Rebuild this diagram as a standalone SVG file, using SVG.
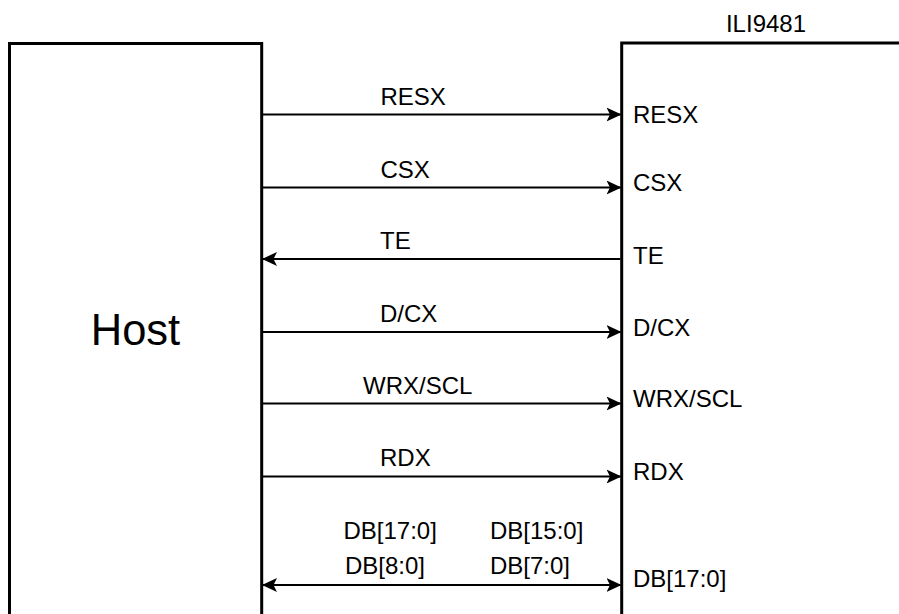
<svg xmlns="http://www.w3.org/2000/svg" width="899" height="614" viewBox="0 0 899 614">
  <style>
    .box { fill: none; stroke: #000; stroke-width: 3; }
    .wire { fill: none; stroke: #000; stroke-width: 1.8; }
    text { font-family: "Liberation Sans", Arial, sans-serif; font-size: 24px; fill: #000; }
    .host { font-size: 43.5px; }
  </style>
  <defs>
    <marker id="arr" viewBox="0 0 15 15" refX="14" refY="7.5" markerWidth="15" markerHeight="15" markerUnits="userSpaceOnUse" orient="auto-start-reverse">
      <path d="M0,0.5 L15,7.5 L0,14.5 L3.5,7.5 Z" fill="#000"/>
    </marker>
  </defs>
  <rect width="899" height="614" fill="#fff"/>

  <g id="host">
    <path class="box" d="M9.5,630 L9.5,43.5 L261.7,43.5 L261.7,630"/>
    <text class="host" x="135.5" y="345" text-anchor="middle">Host</text>
  </g>

  <g id="ili9481">
    <path class="box" d="M621.7,630 L621.7,43 L910,43"/>
    <text x="766" y="32" text-anchor="middle">ILI9481</text>
    <text x="633" y="123">RESX</text>
    <text x="633" y="191">CSX</text>
    <text x="633" y="264">TE</text>
    <text x="633" y="336">D/CX</text>
    <text x="633" y="407">WRX/SCL</text>
    <text x="633" y="480">RDX</text>
    <text x="633" y="587">DB[17:0]</text>
  </g>

  <g id="connectors">
    <line class="wire" x1="262" y1="114.5" x2="620.5" y2="114.5" marker-end="url(#arr)"/>
    <line class="wire" x1="262" y1="187.5" x2="620.5" y2="187.5" marker-end="url(#arr)"/>
    <line class="wire" x1="620.5" y1="259" x2="263" y2="259" marker-end="url(#arr)"/>
    <line class="wire" x1="262" y1="332" x2="620.5" y2="332" marker-end="url(#arr)"/>
    <line class="wire" x1="262" y1="403.5" x2="620.5" y2="403.5" marker-end="url(#arr)"/>
    <line class="wire" x1="262" y1="476.5" x2="620.5" y2="476.5" marker-end="url(#arr)"/>
    <line class="wire" x1="263" y1="585" x2="620.5" y2="585" marker-start="url(#arr)" marker-end="url(#arr)"/>
  </g>

  <g id="labels">
    <text x="380.5" y="105">RESX</text>
    <text x="380.5" y="177.5">CSX</text>
    <text x="380" y="248.5">TE</text>
    <text x="380" y="322">D/CX</text>
    <text x="363" y="393.5">WRX/SCL</text>
    <text x="380" y="466">RDX</text>
    <text x="343.5" y="538.5">DB[17:0]</text>
    <text x="490" y="538.5">DB[15:0]</text>
    <text x="345" y="573.5">DB[8:0]</text>
    <text x="490" y="573.5">DB[7:0]</text>
  </g>
</svg>
